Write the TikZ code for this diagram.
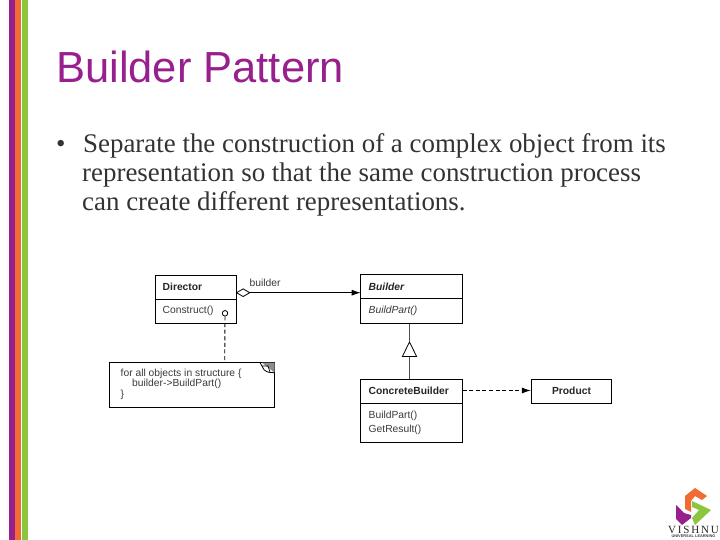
\documentclass[tikz,border=0pt]{standalone}
\usepackage{fontspec}
\setmainfont{Liberation Serif}
\newfontfamily\arialf{Liberation Sans}
\usetikzlibrary{arrows.meta,positioning,shapes.geometric,calc}
\definecolor{vpurple}{HTML}{97208E}
\definecolor{vorange}{HTML}{F26B32}
\definecolor{vgreen}{HTML}{8CC63F}
\definecolor{tgray}{HTML}{3A3A3A}
\tikzset{
  lbl/.style={font=\arialf\fontsize{10.3}{12}\selectfont,text=tgray,inner sep=0pt,anchor=west},
  blbl/.style={font=\arialf\bfseries\fontsize{10.3}{12}\selectfont,text=black!85,inner sep=0pt,anchor=west},
  ilbl/.style={font=\arialf\itshape\fontsize{10.3}{12}\selectfont,text=tgray,inner sep=0pt,anchor=west},
  body/.style={font=\fontsize{26.9}{32}\selectfont,text=black!80,inner sep=0pt,anchor=base west},
  conn/.style={line width=0.9pt,black},
  dashconn/.style={line width=0.9pt,black,dash pattern=on 4pt off 2.6pt},
  fillarrow/.style={-{Latex[length=9pt,width=6pt]}},
}
\begin{document}
\begin{tikzpicture}[x=1pt,y=-1pt]
\useasboundingbox (0,0) rectangle (720,540);
\fill[white] (0,0) rectangle (720,540);
% stripes
\fill[vpurple] (9,0) rectangle (15,540);
\fill[vorange] (15,0) rectangle (21,540);
\fill[vgreen] (22,0) rectangle (28,540);
% title and body
\node[font=\arialf\fontsize{43.5}{48}\selectfont,text=vpurple,inner sep=0pt,anchor=base west] (title) at (56,83) {Builder Pattern};
\node[body] (bullet) at (56,153) {•};
\node[body] (l1) at (83,153) {Separate the construction of a complex object from its};
\node[body] (l2) at (82,182) {representation so that the same construction process};
\node[body] (l3) at (82,211) {can create different representations.};
% Director
\draw[conn,fill=white] (155.5,275) rectangle (236,323);
\draw[conn] (155.5,299) -- (236,299);
\coordinate (dirE) at (236,292.7);
\node[blbl] (dirname) at (162.5,286.5) {Director};
\node[lbl] (dirop) at (162.5,311) {Construct()};
% Builder
\draw[conn,fill=white] (360.7,274.5) rectangle (462.5,323.5);
\draw[conn] (360.7,298.7) -- (462.5,298.7);
\coordinate (bldW) at (360.7,292.7);
\coordinate (bldS) at (409.5,323.5);
\node[font=\arialf\bfseries\itshape\fontsize{10.3}{12}\selectfont,text=black!85,inner sep=0pt,anchor=west] (bldname) at (368.5,286.5) {Builder};
\node[ilbl] (bldop) at (368.5,311) {BuildPart()};
% ConcreteBuilder
\draw[conn,fill=white] (360.7,379.3) rectangle (462.5,442.5);
\draw[conn] (360.7,403.3) -- (462.5,403.3);
\coordinate (cbN) at (409.5,379.3);
\coordinate (cbE) at (462.5,390.5);
\node[blbl] (cbname) at (368.5,391) {ConcreteBuilder};
\node[lbl] (cbop1) at (368.5,415.5) {BuildPart()};
\node[lbl] (cbop2) at (368.5,429.5) {GetResult()};
% Product
\node[draw=black,line width=0.9pt,fill=white,minimum width=80.4pt,minimum height=24pt,inner sep=0pt,font=\arialf\bfseries\fontsize{10.3}{12}\selectfont,text=black!85] (product) at (571.5,391.3) {Product};
% Note
\draw[conn,fill=white] (109.7,362.7) rectangle (274.5,407);
\fill[black!45] (262,362.7) -- (274.5,362.7) -- (274.5,372.7) -- cycle;
\draw[line width=0.8pt] (260,362.7) -- (262,366) .. controls (264,372) and (268,372.7) .. (274.5,372.7);
\draw[line width=0.7pt] (262,366) -- (268,366) -- (270,372);
\coordinate (noteN) at (224.7,362.7);
\node[lbl] (n1) at (120.5,373.5) {for all objects in structure \{};
\node[lbl] (n2) at (132,384) {builder-\textgreater BuildPart()};
\node[lbl] (n3) at (120.5,395) {\}};
% Aggregation + association
\node[draw=black,line width=0.8pt,fill=white,diamond,aspect=1.6,minimum width=13.5pt,minimum height=8pt,inner sep=0pt,anchor=west] (diam) at (dirE) {};
\draw[conn,fillarrow] (diam.east) -- (bldW);
\node[lbl,anchor=base west] (blab) at (249.5,286) {builder};
% Note link
\node[draw=black,line width=0.8pt,circle,fill=white,minimum size=5.5pt,inner sep=0pt] (pin) at (225,313.3) {};
\draw[dashconn] (pin.south) -- (noteN);
% Inheritance
\node[draw=black,line width=0.8pt,fill=white,isosceles triangle,isosceles triangle apex angle=52,shape border rotate=90,minimum height=14.5pt,inner sep=0pt] (tri) at (409.5,352) {};
\draw[line width=0.7pt,black!70] (bldS) -- (tri.apex);
\draw[line width=0.7pt,black!70] (tri.south) -- (cbN);
% Dependency
\draw[dashconn,fillarrow] (cbE) -- (product.west |- cbE);
% Logo
\fill[vorange] (685,496) -- (695,488) -- (707,496) -- (702,500) -- (695,496) -- (691,501) -- (691,512) -- (685,509) -- cycle;
\fill[vgreen] (692,501) -- (711,510) -- (695,525) -- (692,518) -- (699,510) -- (692,507) -- cycle;
\fill[vpurple] (676,505) -- (684,513) -- (691,515) -- (691,518) -- (682,525) -- (676,519) -- cycle;
\node[font=\fontsize{11}{12}\selectfont,text=black!85,inner sep=0pt] (vishnu) at (693.5,529.5) {V\,I\,S\,H\,N\,U};
\node[font=\arialf\bfseries\fontsize{3.9}{4}\selectfont,text=black!75,inner sep=0pt] (vsub) at (693.5,536.5) {UNIVERSAL LEARNING};
\end{tikzpicture}
\end{document}
